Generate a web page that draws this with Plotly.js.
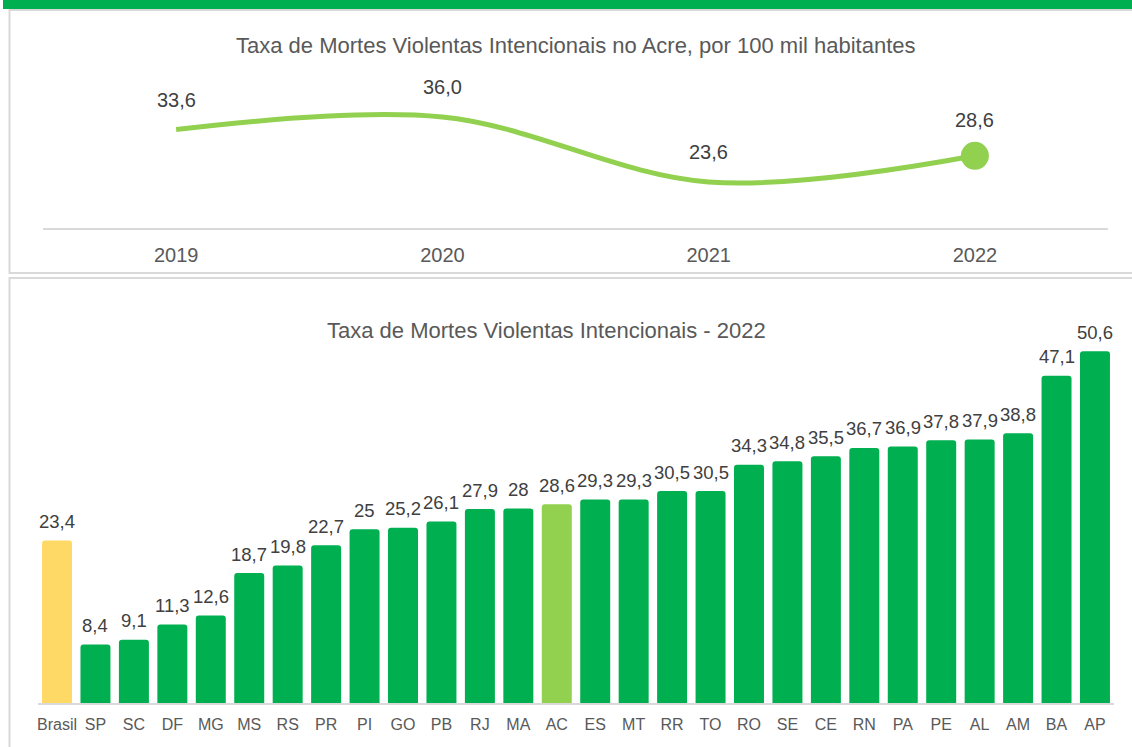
<!DOCTYPE html>
<html>
<head>
<meta charset="utf-8">
<script src="https://cdn.plot.ly/plotly-3.0.1.min.js"></script>
<style>html,body{margin:0;padding:0;background:#fff;}#chart{width:1132px;height:747px;}</style>
</head>
<body>
<div id="chart"></div>
<script>
// ---- data ----
const years = ['2019', '2020', '2021', '2022'];
const acreRates = [33.6, 36.0, 23.6, 28.6];

const states = ['Brasil','SP','SC','DF','MG','MS','RS','PR','PI','GO','PB','RJ','MA','AC','ES','MT','RR','TO','RO','SE','CE','RN','PA','PE','AL','AM','BA','AP'];
const stateRates = [23.4,8.4,9.1,11.3,12.6,18.7,19.8,22.7,25,25.2,26.1,27.9,28,28.6,29.3,29.3,30.5,30.5,34.3,34.8,35.5,36.7,36.9,37.8,37.9,38.8,47.1,50.6];

const topTitle = 'Taxa de Mortes Violentas Intencionais no Acre, por 100 mil habitantes';
const bottomTitle = 'Taxa de Mortes Violentas Intencionais - 2022';

// ---- styling ----
const W = 1132, H = 747;
const FONT = '"Liberation Sans", Arial, sans-serif';
const GREEN = '#00B050', LIGHT = '#92D050', YELLOW = '#FFD966';
const TXT = '#595959', LBL = '#404040', GRID = '#D9D9D9';
const px = v => v / W;
const py = v => 1 - v / H;

const barColors = states.map(s => s === 'Brasil' ? YELLOW : (s === 'AC' ? LIGHT : GREEN));
const lastIdx = acreRates.length - 1;

const traces = [
  {
    type: 'scatter', mode: 'lines',
    x: years, y: acreRates, xaxis: 'x', yaxis: 'y',
    line: {color: LIGHT, width: 5, shape: 'spline', smoothing: 1},
    hoverinfo: 'skip', cliponaxis: false
  },
  {
    type: 'scatter', mode: 'markers',
    x: [years[lastIdx]], y: [acreRates[lastIdx]], xaxis: 'x', yaxis: 'y',
    marker: {color: LIGHT, size: 28, opacity: 1, line: {width: 0}},
    hoverinfo: 'skip', cliponaxis: false
  },
  {
    type: 'bar', x: states, y: stateRates, xaxis: 'x2', yaxis: 'y2',
    marker: {color: barColors, cornerradius: 3, line: {width: 0}},
    hoverinfo: 'skip'
  }
];

const annotations = [];
acreRates.forEach((v, i) => annotations.push({
  xref: 'x', yref: 'y', x: i, y: v, text: v.toFixed(1).replace('.', ','),
  showarrow: false, yanchor: 'middle', yshift: i === lastIdx ? 36 : 30,
  font: {family: FONT, size: 20, color: LBL}
}));
stateRates.forEach((v, i) => annotations.push({
  xref: 'x2', yref: 'y2', x: i, y: v, text: String(v).replace('.', ','),
  showarrow: false, yanchor: 'middle', yshift: 19,
  font: {family: FONT, size: 18.5, color: LBL}
}));
annotations.push({xref: 'paper', yref: 'paper', x: px(576), y: py(46), text: topTitle,
  showarrow: false, xanchor: 'center', yanchor: 'middle', font: {family: FONT, size: 22, color: TXT}});
annotations.push({xref: 'paper', yref: 'paper', x: px(546), y: py(331), text: bottomTitle,
  showarrow: false, xanchor: 'center', yanchor: 'middle', font: {family: FONT, size: 22, color: TXT}});

const shapes = [
  {type: 'rect', xref: 'paper', yref: 'paper', x0: px(3), x1: 1.01, y0: py(9), y1: 1.01, fillcolor: GREEN, line: {width: 0}, layer: 'below'},
  {type: 'rect', xref: 'paper', yref: 'paper', x0: px(9.5), x1: 1.01, y0: py(273), y1: py(10), fillcolor: 'rgba(0,0,0,0)', line: {color: GRID, width: 2}, layer: 'below'},
  {type: 'rect', xref: 'paper', yref: 'paper', x0: px(9.5), x1: 1.01, y0: -0.01, y1: py(278), fillcolor: 'rgba(0,0,0,0)', line: {color: GRID, width: 2}, layer: 'below'}
];

const layout = {
  width: W, height: H,
  margin: {l: 0, r: 0, t: 0, b: 0},
  paper_bgcolor: '#fff', plot_bgcolor: 'rgba(0,0,0,0)',
  showlegend: false,
  separators: ',.',
  font: {family: FONT, color: TXT},
  bargap: 0.22,
  xaxis: {
    domain: [px(43), px(1108)], type: 'category', anchor: 'y', range: [-0.5, 3.5],
    showline: true, linecolor: GRID, linewidth: 2, showgrid: false, zeroline: false,
    ticks: '', ticklabelstandoff: 8, tickangle: 0,
    tickfont: {family: FONT, size: 20, color: TXT}, fixedrange: true
  },
  yaxis: {
    domain: [py(228), py(60)], range: [14.82, 46.88], anchor: 'x',
    visible: false, showgrid: false, zeroline: false, fixedrange: true
  },
  xaxis2: {
    domain: [px(37.8), px(1114.2)], type: 'category', anchor: 'y2', range: [-0.5, states.length - 0.5],
    showline: true, linecolor: GRID, linewidth: 2, showgrid: false, zeroline: false,
    ticks: '', ticklabelstandoff: 6, tickangle: 0,
    tickfont: {family: FONT, size: 16, color: TXT}, fixedrange: true
  },
  yaxis2: {
    domain: [py(703), py(310)], range: [0, 56.55], anchor: 'x2',
    visible: false, showgrid: false, zeroline: false, fixedrange: true
  },
  annotations: annotations,
  shapes: shapes
};

Plotly.newPlot('chart', traces, layout, {displayModeBar: false, staticPlot: true});
</script>
</body>
</html>
